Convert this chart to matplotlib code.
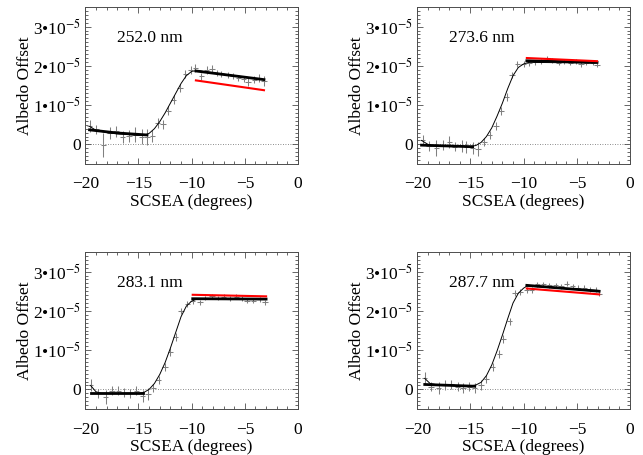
import matplotlib
matplotlib.use("Agg")
import matplotlib.pyplot as plt
from matplotlib.ticker import MultipleLocator, FixedLocator, FixedFormatter

plt.rcParams['font.family'] = ['Liberation Serif', 'DejaVu Serif']
plt.rcParams['mathtext.fontset'] = 'stix'
plt.rcParams['font.size'] = 12.5

# wavelength of each panel
labels = ['252.0 nm', '273.6 nm', '283.1 nm', '287.7 nm']

# measured points: SCSEA (deg), albedo offset (units of 1e-5), error (1e-5)
x1 = [-19.6, -19.0, -18.3, -17.7, -17.1, -16.5, -15.9, -15.3, -14.7, -14.2, -13.7,
      -13.2, -12.7, -12.2, -11.7, -11.1, -10.6, -10.1, -9.65, -9.1, -8.6, -8.1,
      -7.6, -7.2, -6.6, -6.1, -5.6, -5.1, -4.7, -4.1, -3.7, -3.2]
y1 = [0.46, 0.38, -0.02, 0.29, 0.33, 0.19, 0.21, 0.25, 0.20, 0.18, 0.22,
      0.54, 0.51, 0.86, 1.14, 1.43, 1.79, 1.90, 1.95, 1.73, 1.90, 1.92,
      1.82, 1.79, 1.76, 1.75, 1.69, 1.67, 1.59, 1.65, 1.69, 1.62]
e1 = [0.15, 0.12, 0.30, 0.15, 0.15, 0.15, 0.15, 0.18, 0.18, 0.20, 0.15,
      0.12, 0.12, 0.12, 0.12, 0.10, 0.10, 0.10, 0.10, 0.10, 0.10, 0.10,
      0.08, 0.08, 0.08, 0.08, 0.08, 0.08, 0.10, 0.08, 0.10, 0.12]

x2 = [-19.5, -18.9, -18.2, -17.6, -17.0, -16.5, -15.8, -15.4, -14.8, -14.3, -13.7,
      -13.2, -12.6, -12.1, -11.6, -11.1, -10.6, -10.0, -9.5, -8.9, -8.4, -7.8,
      -7.3, -6.7, -6.2, -5.6, -5.1, -4.6, -4.1, -3.5, -3.1]
y2 = [0.11, -0.04, -0.10, -0.02, 0.07, -0.06, -0.04, -0.06, -0.10, -0.12, 0.07,
      0.23, 0.46, 0.86, 1.21, 1.76, 2.04, 2.04, 2.07, 2.09, 2.11, 2.19,
      2.13, 2.07, 2.11, 2.07, 2.11, 2.04, 2.07, 2.07, 2.03]
e2 = [0.12, 0.12, 0.20, 0.12, 0.15, 0.12, 0.15, 0.15, 0.15, 0.18, 0.10,
      0.10, 0.10, 0.10, 0.10, 0.08, 0.08, 0.08, 0.08, 0.06, 0.06, 0.06,
      0.06, 0.06, 0.06, 0.06, 0.06, 0.06, 0.06, 0.06, 0.06]

x3 = [-19.5, -18.8, -18.1, -17.5, -16.9, -16.4, -15.8, -15.2, -14.6, -14.1, -13.6,
      -13.1, -12.5, -12.0, -11.5, -11.0, -10.4, -9.9, -9.2, -8.7, -8.1, -7.5,
      -7.0, -6.4, -5.8, -5.3, -4.8, -4.2, -3.6, -3.1]
y3 = [0.11, -0.10, -0.20, -0.03, -0.03, -0.08, -0.10, -0.03, -0.16, -0.12, 0.03,
      0.24, 0.57, 0.95, 1.33, 2.00, 2.18, 2.25, 2.22, 2.33, 2.37, 2.33,
      2.36, 2.31, 2.36, 2.31, 2.25, 2.25, 2.29, 2.22]
e3 = [0.15, 0.12, 0.18, 0.12, 0.12, 0.12, 0.12, 0.12, 0.15, 0.15, 0.10,
      0.10, 0.10, 0.10, 0.10, 0.08, 0.08, 0.08, 0.06, 0.06, 0.06, 0.06,
      0.06, 0.06, 0.06, 0.06, 0.06, 0.06, 0.06, 0.06]

x4 = [-19.3, -18.7, -18.0, -17.4, -16.8, -16.2, -15.7, -15.1, -14.6, -14.0, -13.5,
      -12.9, -12.3, -11.9, -11.3, -10.8, -10.3, -9.7, -9.25, -8.7, -8.15, -7.6,
      -7.0, -6.5, -5.95, -5.4, -4.85, -4.3, -3.75, -3.2, -2.9]
y4 = [0.28, 0.07, 0.03, 0.11, 0.13, 0.07, 0.04, 0.07, 0.04, 0.11, 0.26,
      0.57, 0.90, 1.29, 1.73, 2.46, 2.48, 2.54, 2.54, 2.68, 2.68, 2.65,
      2.65, 2.63, 2.69, 2.63, 2.59, 2.59, 2.54, 2.54, 2.44]
e4 = [0.15, 0.12, 0.15, 0.12, 0.12, 0.12, 0.12, 0.12, 0.12, 0.12, 0.10,
      0.10, 0.10, 0.10, 0.10, 0.08, 0.08, 0.08, 0.08, 0.06, 0.06, 0.06,
      0.06, 0.06, 0.06, 0.06, 0.06, 0.06, 0.06, 0.06, 0.06]

# smooth fit through all points
fx1 = [-19.6, -19.0, -18.0, -17.0, -16.0, -15.0, -14.5, -14.0, -13.5, -13.0, -12.5,
       -12.0, -11.5, -11.0, -10.5, -10.0, -9.5, -3.2]
fy1 = [0.46, 0.36, 0.30, 0.27, 0.25, 0.23, 0.23, 0.28, 0.40, 0.58, 0.80,
       1.05, 1.30, 1.55, 1.75, 1.86, 1.88, 1.65]
fx2 = [-19.6, -19.0, -18.5, -17.0, -15.0, -14.5, -14.0, -13.5, -13.0, -12.5, -12.0,
       -11.5, -11.0, -10.5, -10.0, -9.5, -3.1]
fy2 = [0.10, 0.00, -0.04, -0.05, -0.05, -0.03, 0.05, 0.20, 0.42, 0.72, 1.05,
       1.42, 1.75, 1.96, 2.05, 2.09, 2.07]
fx3 = [-19.5, -19.0, -18.5, -15.0, -14.5, -14.0, -13.5, -13.0, -12.5, -12.0, -11.5,
       -11.0, -10.5, -10.0, -9.5, -3.1]
fy3 = [0.10, -0.06, -0.10, -0.10, -0.08, 0.00, 0.15, 0.38, 0.68, 1.05, 1.45,
       1.85, 2.12, 2.25, 2.30, 2.30]
fx4 = [-19.3, -18.8, -18.0, -16.0, -15.0, -14.5, -14.0, -13.5, -13.0, -12.5, -12.0,
       -11.5, -11.0, -10.5, -10.0, -9.7, -3.0]
fy4 = [0.28, 0.15, 0.11, 0.09, 0.09, 0.11, 0.18, 0.35, 0.62, 0.98, 1.38,
       1.80, 2.20, 2.45, 2.58, 2.63, 2.52]

# linear fits before / after the step (black) and reference trend (red)
lx1, ly1 = [-19.6, -17.0, -14.2], [0.37, 0.29, 0.24]
rx1, ry1 = [-9.6, -3.2], [1.87, 1.65]
redx1, redy1 = [-9.6, -3.2], [1.63, 1.38]
lx2, ly2 = [-19.6, -14.8], [-0.02, -0.06]
rx2, ry2 = [-9.7, -3.1], [2.13, 2.09]
redx2, redy2 = [-9.7, -3.1], [2.20, 2.12]
lx3, ly3 = [-19.5, -14.6], [-0.10, -0.10]
rx3, ry3 = [-9.9, -3.0], [2.31, 2.30]
redx3, redy3 = [-9.9, -3.0], [2.41, 2.37]
lx4, ly4 = [-19.3, -14.6], [0.125, 0.08]
rx4, ry4 = [-9.7, -2.9], [2.65, 2.50]
redx4, redy4 = [-9.7, -2.9], [2.57, 2.42]

xerr = 0.25

panels = [
    (x1, y1, e1, fx1, fy1, lx1, ly1, rx1, ry1, redx1, redy1),
    (x2, y2, e2, fx2, fy2, lx2, ly2, rx2, ry2, redx2, redy2),
    (x3, y3, e3, fx3, fy3, lx3, ly3, rx3, ry3, redx3, redy3),
    (x4, y4, e4, fx4, fy4, lx4, ly4, rx4, ry4, redx4, redy4),
]

fig = plt.figure(figsize=(6.43, 4.55), dpi=100)
W, H = 643, 455
boxes = [(85.3, 7, 298, 164), (417.3, 7, 630, 164),
         (85.3, 252, 298, 409), (417.3, 252, 630, 409)]

for i, (box, p) in enumerate(zip(boxes, panels)):
    x, y, e, fx, fy, lx, ly, rx, ry, redx, redy = p
    l, t, r, b = box
    ax = fig.add_axes([l / W, 1 - b / H, (r - l) / W, (b - t) / H])
    ax.axhline(0, color='0.4', ls=(0, (1, 2)), lw=0.6, zorder=1)
    ax.errorbar(x, y, yerr=e, xerr=xerr, fmt='none', ecolor='0.5',
                elinewidth=0.75, capsize=0, zorder=2)
    ax.plot(fx, fy, color='k', lw=0.7, zorder=3)
    ax.plot(lx, ly, color='k', lw=2.0, zorder=4)
    ax.plot(rx, ry, color='k', lw=2.0, zorder=4)
    ax.plot(redx, redy, color='red', lw=1.5, zorder=5)
    ax.text(-17.0, 2.72, labels[i], ha='left', va='center')

    ax.set_xlim(-20, 0)
    ax.set_ylim(-0.5, 3.5)
    ax.xaxis.set_major_locator(MultipleLocator(5))
    ax.xaxis.set_minor_locator(MultipleLocator(1))
    ax.yaxis.set_major_locator(FixedLocator([0, 1, 2, 3]))
    ax.yaxis.set_major_formatter(FixedFormatter(
        ['0', '1•10$^{-5}$', '2•10$^{-5}$', '3•10$^{-5}$']))
    ax.yaxis.set_minor_locator(MultipleLocator(0.1))
    ax.tick_params(which='both', direction='in', top=True, right=True,
                   color='0.3', width=0.6)
    ax.tick_params(which='major', length=4)
    ax.tick_params(axis='x', which='major', pad=9)
    ax.tick_params(axis='y', which='major', pad=3)
    ax.tick_params(which='minor', length=2)
    for s in ax.spines.values():
        s.set_linewidth(0.7)
        s.set_color('0.3')
    ax.set_xlabel('SCSEA (degrees)', labelpad=1)
    ax.set_ylabel('Albedo Offset', labelpad=0)

fig.savefig('out.png', dpi=100)
